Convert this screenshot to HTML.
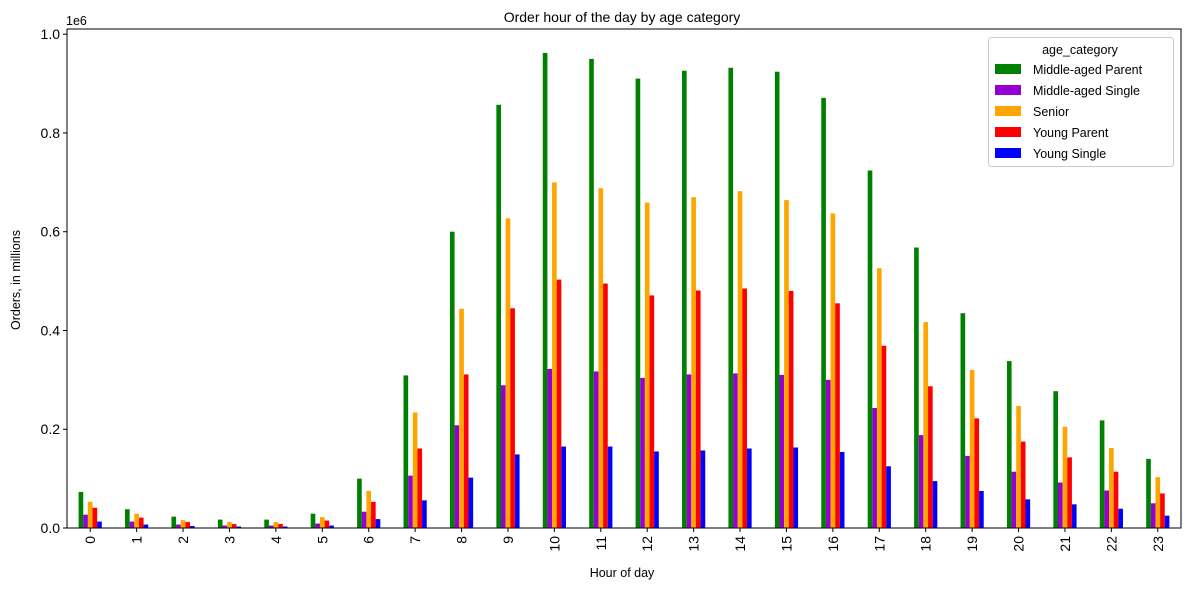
<!DOCTYPE html>
<html><head><meta charset="utf-8"><style>
html,body{margin:0;padding:0;background:#fff;}
svg{display:block;font-family:"Liberation Sans","DejaVu Sans",sans-serif;}
</style></head><body>
<svg id="chart" width="1189" height="589" viewBox="0 0 1189 589">
<rect width="1189" height="589" fill="#fff"/>
<text x="622" y="22" text-anchor="middle" font-size="14">Order hour of the day by age category</text>
<text x="66" y="25" font-size="12.5">1e6</text>
<g id="bars"></g>
<g id="axes"></g>
<text x="622" y="577" text-anchor="middle" font-size="12.5">Hour of day</text>
<text transform="translate(20,280) rotate(-90)" text-anchor="middle" font-size="12.5">Orders, in millions</text>
<g id="legend"></g>
</svg>
<script>
const categories = ["0","1","2","3","4","5","6","7","8","9","10","11","12","13","14","15","16","17","18","19","20","21","22","23"];
const seriesNames = ["Middle-aged Parent","Middle-aged Single","Senior","Young Parent","Young Single"];
const seriesColors = ["green","darkviolet","orange","red","blue"];
const middleAgedParent = [73,38,23,17,17,29,100,309,600,857,962,950,910,926,932,924,871,724,568,435,338,277,218,140];
const middleAgedSingle = [27,13,7,5,5,9,33,106,208,289,322,317,304,311,313,310,300,243,188,146,114,92,76,50];
const senior = [53,29,16,12,12,22,75,234,444,627,700,688,659,670,682,664,637,526,417,320,247,205,162,103];
const youngParent = [41,21,12,8,8,15,53,161,311,445,503,495,471,481,485,480,455,369,287,222,175,143,114,70];
const youngSingle = [13,7,4,3,3,5,18,56,102,149,165,165,155,157,161,163,154,125,95,75,58,48,39,25];
const yTicks = [0,0.2,0.4,0.6,0.8,1.0];
const yTickLabels = ["0.0","0.2","0.4","0.6","0.8","1.0"];

const series = [middleAgedParent,middleAgedSingle,senior,youngParent,youngSingle];
const NS="http://www.w3.org/2000/svg";
const L=67,R=1181,T=29,B=528;
const ymax=1.0105;
const y=v=>B-(v/ymax)*(B-T);
const groupW=(R-L)/categories.length;
const x=i=>L+groupW*(i+0.5);
const barW=groupW*0.1;
function mk(tag,attrs,parent){const e=document.createElementNS(NS,tag);for(const k in attrs)e.setAttribute(k,attrs[k]);parent.appendChild(e);return e;}
const bars=document.getElementById('bars');
series.forEach((s,si)=>{
  s.forEach((v,i)=>{
    const val=v/1000;
    const r=mk('rect',{x:x(i)-2.5*barW+si*barW,y:y(val),width:barW,height:B-y(val),fill:seriesColors[si]},bars);
    
    
  });
});
const ax=document.getElementById('axes');
const frame=mk('rect',{x:L,y:T,width:R-L,height:B-T,fill:'none',stroke:'#000','stroke-width':1},ax);


yTicks.forEach((t,i)=>{
  mk('line',{x1:L-4,x2:L,y1:y(t),y2:y(t),stroke:'#000'},ax);
  const tx=mk('text',{x:L-7,y:y(t)+5,'text-anchor':'end','font-size':14},ax);
  tx.textContent=yTickLabels[i];
  
  
});
categories.forEach((c,i)=>{
  mk('line',{x1:x(i),x2:x(i),y1:B,y2:B+4,stroke:'#000'},ax);
  const tx=mk('text',{transform:`translate(${x(i)+5},${B+8}) rotate(-90)`,'text-anchor':'end','font-size':14},ax);
  tx.textContent=c;
  
  
});
const lg=document.getElementById('legend');
mk('rect',{x:988.5,y:37.5,width:185,height:129,rx:3,fill:'#fff','fill-opacity':0.8,stroke:'#ccc'},lg);
const lt=mk('text',{x:1080,y:54,'text-anchor':'middle','font-size':12.5},lg);
lt.textContent='age_category';


seriesNames.forEach((n,i)=>{
  const yy=69+i*21;
  const p=mk('rect',{x:995,y:yy-5,width:26,height:10,fill:seriesColors[i]},lg);
  
  
  const t=mk('text',{x:1033,y:yy+5,'font-size':12.5},lg);
  t.textContent=n;
  
  
});
</script>
</body></html>
